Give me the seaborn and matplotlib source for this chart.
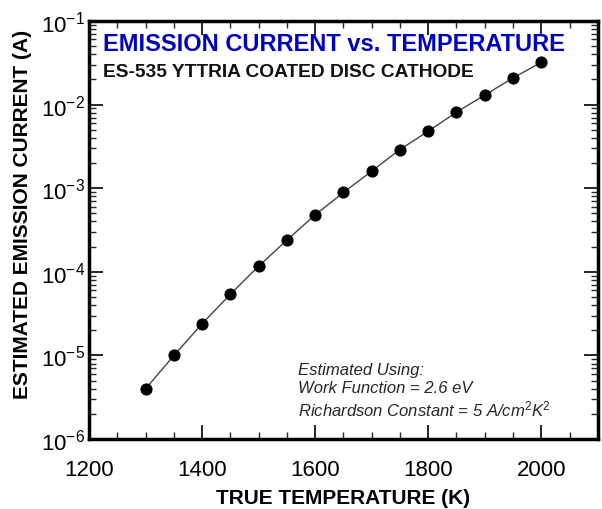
import math
import matplotlib
matplotlib.use('Agg')
import matplotlib.pyplot as plt
import matplotlib.ticker as mticker
import pandas as pd
import seaborn as sns

temperature = [1300, 1350, 1400, 1450, 1500, 1550, 1600, 1650,
               1700, 1750, 1800, 1850, 1900, 1950, 2000]
current = [4.0e-6, 1.0e-5, 2.4e-5, 5.4e-5, 1.17e-4, 2.4e-4, 4.8e-4, 8.9e-4,
           1.6e-3, 2.9e-3, 4.8e-3, 8.1e-3, 1.3e-2, 2.08e-2, 3.2e-2]
x_ticks = [1200, 1400, 1600, 1800, 2000]
y_ticks = [1e-6, 1e-5, 1e-4, 1e-3, 1e-2, 1e-1]

df = pd.DataFrame({'temp': temperature, 'current': current})

sns.set_style('ticks')
plt.rcParams['font.family'] = ['Liberation Sans', 'DejaVu Sans']
plt.rcParams['mathtext.fontset'] = 'custom'
plt.rcParams['mathtext.rm'] = 'Liberation Sans'
plt.rcParams['mathtext.it'] = 'Liberation Sans:italic'
plt.rcParams['mathtext.bf'] = 'Liberation Sans:bold'
plt.rcParams['axes.unicode_minus'] = False

fig = plt.figure(figsize=(6.02, 5.10), dpi=100)
ax = fig.add_axes([0.148, 0.137, 0.845, 0.820])

sns.lineplot(data=df, x='temp', y='current', ax=ax, color='#444444',
             linewidth=1.0, marker='o', markersize=8,
             markerfacecolor='black', markeredgecolor='black')

ax.set_yscale('log')
ax.set_xlim(1200, 2100)
ax.set_ylim(1e-6, 1e-1)
ax.set_xticks(x_ticks)
ax.xaxis.set_minor_locator(mticker.MultipleLocator(50))
ax.set_yticks(y_ticks)
ax.yaxis.set_minor_locator(mticker.LogLocator(base=10, subs=range(2, 10)))
ax.yaxis.set_minor_formatter(mticker.NullFormatter())
ax.yaxis.set_major_formatter(mticker.FuncFormatter(
    lambda v, p: '10$^{%d}$' % round(math.log10(v))))

for s in ax.spines.values():
    s.set_visible(True)
    s.set_linewidth(2.5)
    s.set_color('black')

ax.tick_params(which='major', direction='in', length=10, width=1.2,
               top=True, right=True, labelsize=16, colors='black')
ax.tick_params(axis='x', which='major', pad=14)
ax.tick_params(axis='y', which='major', pad=3)
ax.tick_params(which='minor', direction='in', length=5, width=1.0,
               top=True, right=True)

ax.set_xlabel('TRUE TEMPERATURE (K)', fontsize=15, fontweight='bold',
              labelpad=6, color='black')
ax.set_ylabel('ESTIMATED EMISSION CURRENT (A)', fontsize=15, fontweight='bold',
              color='black')
ax.yaxis.set_label_coords(-0.112, 0.54)

ax.text(0.028, 0.945, 'EMISSION CURRENT vs. TEMPERATURE', transform=ax.transAxes,
        fontsize=17, fontweight='bold', color='#0000c0', va='center', ha='left')
ax.text(0.028, 0.88, 'ES-535 YTTRIA COATED DISC CATHODE', transform=ax.transAxes,
        fontsize=13.8, fontweight='bold', color='#111111', va='center', ha='left')

ax.text(0.41, 0.117, 'Estimated Using:\nWork Function = 2.6 eV\n'
        'Richardson Constant = 5 A/cm$^2$K$^2$',
        transform=ax.transAxes, fontsize=12, fontstyle='italic',
        va='center', ha='left', linespacing=1.25)

fig.savefig('out.png', dpi=100)
